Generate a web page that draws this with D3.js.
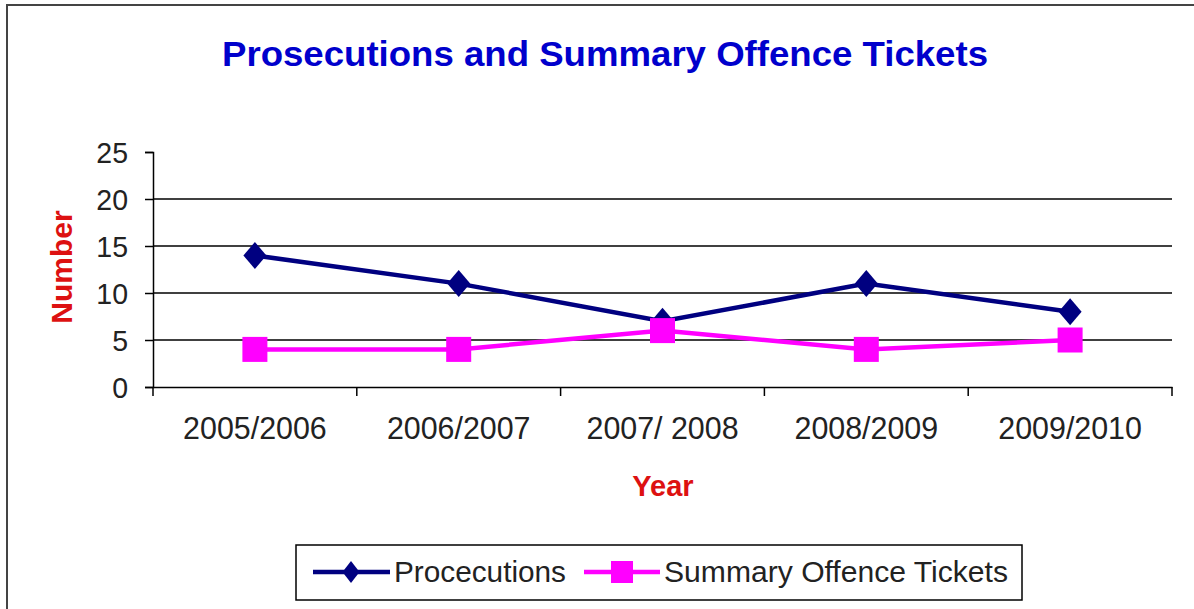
<!DOCTYPE html>
<html><head><meta charset="utf-8">
<script src="https://cdn.jsdelivr.net/npm/d3@7"></script>
<style>body{margin:0;background:#fff;overflow:hidden}svg{display:block}</style>
</head><body><svg id="c" width="1194" height="609"></svg>
<script>
const categories = ["2005/2006","2006/2007","2007/ 2008","2008/2009","2009/2010"];
const prosecutions = [14, 11, 7, 11, 8];
const tickets = [4, 4, 6, 4, 5];
const yTicks = [0,5,10,15,20,25];
const seriesNames = ["Procecutions","Summary Offence Tickets"];

const svg = d3.select("#c");
const font = "'Liberation Sans', Arial, sans-serif";
svg.append("rect").attr("x",7).attr("y",5).attr("width",1300).attr("height",700)
  .attr("fill","#fff").attr("stroke","#444").attr("stroke-width",2);

const L=153, R=1172, T=152, B=387;
const x = d3.scaleBand().domain(categories).range([L,R]);
const y = d3.scaleLinear().domain([0,25]).range([B,T]);

svg.append("text").attr("x",605).attr("y",66).attr("text-anchor","middle")
  .attr("font-family",font).attr("font-weight","bold").attr("font-size",35)
  .attr("fill","#0000CC").attr("textLength",766).attr("lengthAdjust","spacingAndGlyphs")
  .text("Prosecutions and Summary Offence Tickets");

// gridlines
svg.append("g").selectAll("line").data(yTicks.filter(d=>d>0&&d<25)).join("line")
  .attr("x1",L).attr("x2",R).attr("y1",d=>y(d)).attr("y2",d=>y(d))
  .attr("stroke","#000").attr("stroke-width",1.5);

const ya = svg.append("g").attr("transform",`translate(${L},0)`)
  .call(d3.axisLeft(y).tickValues(yTicks).tickSize(8).tickPadding(17));
ya.select(".domain").attr("stroke","#000").attr("stroke-width",1.5);
ya.selectAll(".tick line").attr("stroke","#000").attr("stroke-width",1.5);
ya.selectAll("text").attr("font-family",font).attr("font-size",30).attr("fill","#222")
  .attr("dy","0.36em").attr("textLength",function(){return this.getComputedTextLength()*0.95;}).attr("lengthAdjust","spacingAndGlyphs");

const xa = svg.append("g").attr("transform",`translate(0,${B})`)
  .call(d3.axisBottom(x).tickSize(0).tickPadding(30));
xa.select(".domain").attr("stroke","#000").attr("stroke-width",1.5);
xa.selectAll("text").attr("font-family",font).attr("font-size",31).attr("fill","#222")
  .attr("textLength",function(){return this.getComputedTextLength()*0.98;}).attr("lengthAdjust","spacingAndGlyphs");
// category boundary ticks
svg.append("g").selectAll("line").data(categories.concat(["_end"])).join("line")
  .attr("x1",(d,i)=>L+i*x.step()).attr("x2",(d,i)=>L+i*x.step())
  .attr("y1",B).attr("y2",B+9).attr("stroke","#000").attr("stroke-width",1.5);

svg.append("text").attr("x",663).attr("y",496).attr("text-anchor","middle")
  .attr("font-family",font).attr("font-weight","bold").attr("font-size",29).attr("fill","#DD1111").text("Year");
svg.append("text").attr("transform","translate(72,267) rotate(-90)").attr("text-anchor","middle")
  .attr("font-family",font).attr("font-weight","bold").attr("font-size",30).attr("fill","#DD1111").text("Number");

const cx = d=>x(d)+x.bandwidth()/2;
const line = d3.line().x((d,i)=>cx(categories[i])).y(d=>y(d));
const navy="#000080", mag="#FF00FF";
const diamond = (w,h)=>`M0,${-h}L${w},0L0,${h}L${-w},0Z`;
svg.append("path").datum(prosecutions).attr("d",line).attr("fill","none").attr("stroke",navy).attr("stroke-width",4.5);
svg.append("g").selectAll("path").data(prosecutions).join("path")
  .attr("d",diamond(11.5,13.5))
  .attr("transform",(d,i)=>`translate(${cx(categories[i])},${y(d)})`).attr("fill",navy);
svg.append("path").datum(tickets).attr("d",line).attr("fill","none").attr("stroke",mag).attr("stroke-width",4.5);
svg.append("g").selectAll("rect").data(tickets).join("rect")
  .attr("x",(d,i)=>cx(categories[i])-12.5).attr("y",d=>y(d)-12.5).attr("width",25).attr("height",25).attr("fill",mag);

// legend
const lg = svg.append("g");
lg.append("rect").attr("x",296).attr("y",545).attr("width",726).attr("height",55).attr("fill","#fff").attr("stroke","#000").attr("stroke-width",1.5);
lg.append("line").attr("x1",313).attr("x2",390).attr("y1",572).attr("y2",572).attr("stroke",navy).attr("stroke-width",4.5);
lg.append("path").attr("d",diamond(8.5,11)).attr("transform","translate(351,572)").attr("fill",navy);
lg.append("text").attr("x",394).attr("y",582).attr("font-family",font).attr("font-size",30).attr("fill","#222")
  .attr("textLength",172).attr("lengthAdjust","spacingAndGlyphs").text(seriesNames[0]);
lg.append("line").attr("x1",584).attr("x2",660).attr("y1",572).attr("y2",572).attr("stroke",mag).attr("stroke-width",4.5);
lg.append("rect").attr("x",611).attr("y",561).attr("width",22).attr("height",22).attr("fill",mag);
lg.append("text").attr("x",664).attr("y",582).attr("font-family",font).attr("font-size",30).attr("fill","#222")
  .attr("textLength",344).attr("lengthAdjust","spacingAndGlyphs").text(seriesNames[1]);
</script></body></html>
